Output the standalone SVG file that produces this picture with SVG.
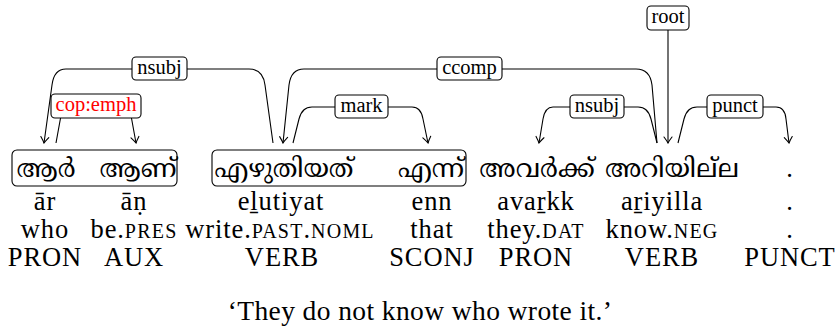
<svg xmlns="http://www.w3.org/2000/svg" width="840" height="329" viewBox="0 0 840 329">
  <defs>
    <marker id="arrow" viewBox="-7 -5 8 10" refX="0" refY="0" markerWidth="8" markerHeight="10" markerUnits="userSpaceOnUse" orient="auto">
      <path d="M-6,-4 Q-2,-1 0,0 Q-2,1 -6,4" fill="none" stroke="#000" stroke-width="1.1" stroke-linecap="round"/>
    </marker>
  </defs>
  <style>
    .edge { fill: none; stroke: #000; stroke-width: 1.1; }
    .arr { marker-end: url(#arrow); }
    .lbl rect { fill: #fff; stroke: #000; stroke-width: 1.1; }
    .lbl text { font-family: "Liberation Serif", "DejaVu Serif", serif; font-size: 20.5px; text-anchor: middle; fill: #000; }
    .lbl text.red { fill: #ff0000; }
    .grp { fill: none; stroke: #000; stroke-width: 1.1; }
    .ml { font-family: "Noto Serif Malayalam", "Noto Sans Malayalam", "Rachana", "Manjari", "Noto Sans", sans-serif; font-size: 26px; text-anchor: middle; fill: #000; }
    .w { font-family: "Liberation Serif", "DejaVu Serif", serif; font-size: 26.5px; letter-spacing: 0.9px; text-anchor: middle; fill: #000; }
    .sc { font-size: 20px; letter-spacing: 1.2px; }
    .tr { font-family: "Liberation Serif", "DejaVu Serif", serif; font-size: 27.5px; letter-spacing: 0.4px; text-anchor: middle; fill: #000; }
  </style>

  <!-- dependency edges -->
  <g id="edges">
    <!-- nsubj: eḻutiyat → ār -->
    <path class="edge arr" d="M273,143 L265,85 Q263,69 249,69 L66,69 Q54,69 52,85 L44,143"/>
    <!-- cop:emph: ār → āṇ -->
    <path class="edge arr" d="M56,143 L62,110 L130,110 L136,143"/>
    <!-- ccomp: aṟiyilla → eḻutiyat -->
    <path class="edge arr" d="M657,143 L652,85 Q650,69 636,69 L304,69 Q291,69 289,85 L283,143"/>
    <!-- mark: eḻutiyat → enn -->
    <path class="edge arr" d="M293,143 L299,119 Q302,107 312,107 L412,107 Q421,107 423,119 L428,143"/>
    <!-- nsubj: aṟiyilla → avaṟkk -->
    <path class="edge arr" d="M657,143 L651,119 Q648,107 638,107 L553,107 Q545,107 543,119 L539,143"/>
    <!-- root -->
    <path class="edge arr" d="M668,30 L668,143"/>
    <!-- punct: aṟiyilla → . -->
    <path class="edge arr" d="M678,143 L684,119 Q687,107 697,107 L776,107 Q785,107 786,119 L789,143"/>
  </g>

  <!-- edge labels -->
  <g id="label-nsubj1" class="lbl">
    <rect x="132" y="57" width="55" height="23" rx="4"/>
    <text x="159.5" y="74">nsubj</text>
  </g>
  <g id="label-cop-emph" class="lbl">
    <rect x="51" y="94" width="90" height="24" rx="4"/>
    <text class="red" x="96" y="111">cop:emph</text>
  </g>
  <g id="label-ccomp" class="lbl">
    <rect x="437" y="57" width="65" height="23" rx="4"/>
    <text x="469.5" y="74">ccomp</text>
  </g>
  <g id="label-mark" class="lbl">
    <rect x="335" y="95" width="53" height="23" rx="4"/>
    <text x="361.5" y="112">mark</text>
  </g>
  <g id="label-nsubj2" class="lbl">
    <rect x="570" y="95" width="54" height="23" rx="4"/>
    <text x="597" y="112">nsubj</text>
  </g>
  <g id="label-punct" class="lbl">
    <rect x="707" y="95" width="56" height="23" rx="4"/>
    <text x="735" y="112">punct</text>
  </g>
  <g id="label-root" class="lbl">
    <rect x="647" y="6" width="42" height="24" rx="4"/>
    <text x="668" y="23">root</text>
  </g>

  <!-- word group frames -->
  <g id="group-1">
    <rect class="grp" x="12" y="150" width="165" height="36" rx="5"/>
  </g>
  <g id="group-2">
    <rect class="grp" x="212" y="150" width="254" height="36" rx="5"/>
  </g>

  <!-- tokens: script, transliteration, gloss, UPOS -->
  <g id="tok-1">
    <text class="ml" x="46" y="177">ആർ</text>
    <text class="w" x="45" y="210">ār</text>
    <text class="w" x="45" y="238">who</text>
    <text class="w" x="45" y="266">PRON</text>
  </g>
  <g id="tok-2">
    <text class="ml" x="138" y="177">ആണ്</text>
    <text class="w" x="134" y="210">āṇ</text>
    <text class="w" x="134" y="238">be.<tspan class="sc">PRES</tspan></text>
    <text class="w" x="134" y="266">AUX</text>
  </g>
  <g id="tok-3">
    <text class="ml" x="284" y="177">എഴുതിയത്</text>
    <text class="w" x="281" y="210">eḻutiyat</text>
    <text class="w" x="280" y="238">write.<tspan class="sc">PAST</tspan>.<tspan class="sc">NOML</tspan></text>
    <text class="w" x="282" y="266">VERB</text>
  </g>
  <g id="tok-4">
    <text class="ml" x="431" y="177">എന്ന്</text>
    <text class="w" x="432" y="210">enn</text>
    <text class="w" x="432" y="238">that</text>
    <text class="w" x="432" y="266">SCONJ</text>
  </g>
  <g id="tok-5">
    <text class="ml" x="537" y="177">അവർക്ക്</text>
    <text class="w" x="536" y="210">avaṟkk</text>
    <text class="w" x="536" y="238">they.<tspan class="sc">DAT</tspan></text>
    <text class="w" x="536" y="266">PRON</text>
  </g>
  <g id="tok-6">
    <text class="ml" x="672" y="177">അറിയില്‌ല</text>
    <text class="w" x="662" y="210">aṟiyilla</text>
    <text class="w" x="662" y="238">know.<tspan class="sc">NEG</tspan></text>
    <text class="w" x="662" y="266">VERB</text>
  </g>
  <g id="tok-7">
    <text class="w" x="790" y="177">.</text>
    <text class="w" x="790" y="210">.</text>
    <text class="w" x="790" y="238">.</text>
    <text class="w" x="790" y="266">PUNCT</text>
  </g>

  <!-- free translation -->
  <text class="tr" x="420" y="320">‘They do not know who wrote it.’</text>
</svg>
